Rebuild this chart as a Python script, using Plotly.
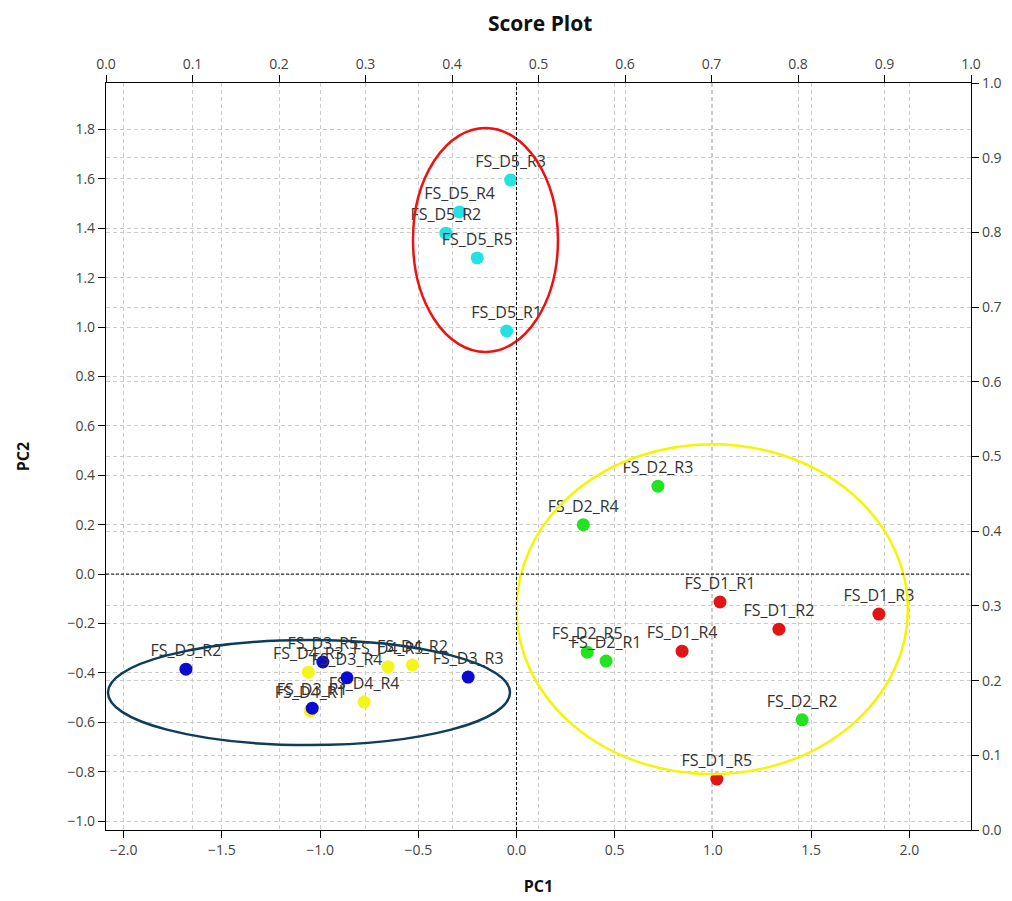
import plotly.graph_objects as go

# ---- data ----
d1_labels = ["FS_D1_R1", "FS_D1_R2", "FS_D1_R3", "FS_D1_R4", "FS_D1_R5"]
d1_pc1 = [1.036, 1.336, 1.845, 0.843, 1.02]
d1_pc2 = [-0.113, -0.223, -0.162, -0.312, -0.83]

d2_labels = ["FS_D2_R1", "FS_D2_R2", "FS_D2_R3", "FS_D2_R4", "FS_D2_R5"]
d2_pc1 = [0.456, 1.454, 0.72, 0.34, 0.36]
d2_pc2 = [-0.352, -0.59, 0.356, 0.20, -0.316]

d3_labels = ["FS_D3_R1", "FS_D3_R2", "FS_D3_R3", "FS_D3_R4", "FS_D3_R5"]
d3_pc1 = [-1.04, -1.683, -0.246, -0.863, -0.986]
d3_pc2 = [-0.543, -0.385, -0.417, -0.42, -0.356]

d4_labels = ["FS_D4_R1", "FS_D4_R2", "FS_D4_R3", "FS_D4_R4", "FS_D4_R5"]
d4_pc1 = [-1.05, -0.53, -1.06, -0.776, -0.654]
d4_pc2 = [-0.555, -0.368, -0.397, -0.518, -0.375]

d5_labels = ["FS_D5_R1", "FS_D5_R2", "FS_D5_R3", "FS_D5_R4", "FS_D5_R5"]
d5_pc1 = [-0.05, -0.36, -0.03, -0.29, -0.20]
d5_pc2 = [0.984, 1.38, 1.595, 1.466, 1.28]

x_ticks = [-2.0, -1.5, -1.0, -0.5, 0.0, 0.5, 1.0, 1.5, 2.0]
y_ticks = [-1.0, -0.8, -0.6, -0.4, -0.2, 0.0, 0.2, 0.4, 0.6, 0.8, 1.0, 1.2, 1.4, 1.6, 1.8]
sec_ticks = [0.0, 0.1, 0.2, 0.3, 0.4, 0.5, 0.6, 0.7, 0.8, 0.9, 1.0]

groups = [
    (d4_labels, d4_pc1, d4_pc2, "#f5f51e"),
    (d3_labels, d3_pc1, d3_pc2, "#0a0ad0"),
    (d2_labels, d2_pc1, d2_pc2, "#22e41e"),
    (d1_labels, d1_pc1, d1_pc2, "#e41414"),
    (d5_labels, d5_pc1, d5_pc2, "#22e2e2"),
]

FONT = "Open Sans, sans-serif"

fig = go.Figure()
for labels, xs, ys, col in groups:
    fig.add_trace(go.Scatter(
        x=xs, y=ys, mode="markers+text", text=labels,
        textposition="top center",
        textfont=dict(family=FONT, size=16, color="#333333"),
        marker=dict(size=13, color=col, line=dict(width=0)),
        showlegend=False, cliponaxis=False,
    ))

# dummy trace for secondary axes
fig.add_trace(go.Scatter(x=[None], y=[None], xaxis="x2", yaxis="y2",
                         showlegend=False, hoverinfo="skip"))

# ellipses
fig.add_shape(type="circle", xref="x", yref="y", x0=-0.527, x1=0.211, y0=0.899, y1=1.806,
              line=dict(color="#ee1111", width=2.5))
fig.add_shape(type="circle", xref="x", yref="y", x0=0.0, x1=1.993, y0=-0.81, y1=0.526,
              line=dict(color="#f5f500", width=2.5))
fig.add_shape(type="circle", xref="x", yref="y", x0=-2.08, x1=-0.033, y0=-0.692, y1=-0.267,
              line=dict(color="#0e3d5a", width=2.5))

# zero lines
fig.add_shape(type="line", xref="x", yref="paper", x0=0, x1=0, y0=0, y1=1,
              line=dict(color="black", width=1, dash="3px,2px"), layer="above")
fig.add_shape(type="line", xref="paper", yref="y", x0=0, x1=1, y0=0, y1=0,
              line=dict(color="black", width=1, dash="3px,2px"), layer="above")

tickfont = dict(family=FONT, size=14, color="#444444")
grid = dict(showgrid=True, gridcolor="#cccccc", griddash="4px,3px", gridwidth=1)
common = dict(tickformat=".1f", ticks="outside", ticklen=7, tickcolor="black",
              showline=True, linecolor="black", linewidth=1.2, zeroline=False,
              tickfont=tickfont, automargin=False, **grid)

fig.update_layout(
    width=1004, height=893,
    margin=dict(l=98, r=41, t=75, b=71),
    paper_bgcolor="white", plot_bgcolor="white",
    title=dict(text="<b>Score Plot</b>", x=0.53, xanchor="center", y=0.982, yanchor="middle",
               font=dict(family=FONT, size=21, color="#111111")),
    xaxis=dict(range=[-2.09, 2.314], tickvals=x_ticks,
               title=dict(text="<b>PC1</b>", standoff=22,
                          font=dict(family=FONT, size=16, color="#111111")),
               **common),
    yaxis=dict(range=[-1.036, 1.988], tickvals=y_ticks,
               title=dict(text="<b>PC2</b>", standoff=33,
                          font=dict(family=FONT, size=16, color="#111111")),
               **common),
    xaxis2=dict(overlaying="x", side="top", anchor="y", range=[0, 1], tickvals=sec_ticks,
                **common),
    yaxis2=dict(overlaying="y", side="right", anchor="x", range=[0, 1], tickvals=sec_ticks,
                **common),
)

fig.write_html("out.html")
